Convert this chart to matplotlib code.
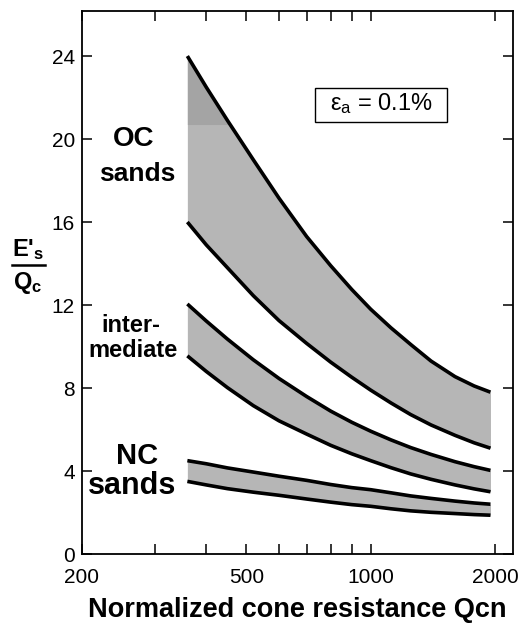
import numpy as np
import matplotlib
matplotlib.use("Agg")
import matplotlib.pyplot as plt
from matplotlib.patches import Rectangle
from matplotlib.ticker import FixedLocator, NullFormatter

plt.rcParams['font.family'] = ['Liberation Sans', 'DejaVu Sans']
plt.rcParams['mathtext.fontset'] = 'custom'
plt.rcParams['mathtext.rm'] = 'Liberation Sans'
plt.rcParams['mathtext.bf'] = 'Liberation Sans:bold'
plt.rcParams['mathtext.it'] = 'Liberation Sans:italic'

# Qcn values where the curves were read
qcn = [360, 400, 450, 520, 600, 700, 800, 900, 1000, 1120, 1250, 1400, 1600, 1780, 1950]

# E's/Qc band limits
oc_upper = [24.0, 22.5, 20.9, 19.0, 17.15, 15.3, 13.9, 12.75, 11.8, 10.9, 10.1, 9.3, 8.55, 8.1, 7.8]
oc_lower = [16.0, 14.9, 13.8, 12.45, 11.25, 10.15, 9.25, 8.52, 7.9, 7.28, 6.72, 6.22, 5.72, 5.36, 5.1]
int_upper = [12.05, 11.23, 10.36, 9.36, 8.46, 7.59, 6.89, 6.35, 5.92, 5.5, 5.13, 4.8, 4.45, 4.21, 4.03]
int_lower = [9.55, 8.8, 8.02, 7.15, 6.42, 5.78, 5.24, 4.83, 4.5, 4.16, 3.86, 3.6, 3.33, 3.14, 3.0]
nc_upper = [4.5, 4.35, 4.15, 3.95, 3.75, 3.55, 3.35, 3.2, 3.1, 2.95, 2.8, 2.68, 2.55, 2.46, 2.4]
nc_lower = [3.5, 3.33, 3.15, 2.98, 2.83, 2.65, 2.5, 2.38, 2.3, 2.18, 2.08, 2.01, 1.95, 1.9, 1.87]

x_major = [200, 500, 1000, 2000]
x_minor = [300, 400, 600, 700, 800, 900]
y_ticks = [0, 4, 8, 12, 16, 20, 24]

fig = plt.figure(figsize=(5.25, 6.26), dpi=100)
ax = fig.add_axes([0.156, 0.115, 0.821, 0.8674])

bands = [(oc_lower, oc_upper), (int_lower, int_upper), (nc_lower, nc_upper)]
for lo, hi in bands:
    ax.fill_between(qcn, lo, hi, color='#b6b6b6', linewidth=0, zorder=1)
    ax.plot(qcn, hi, color='black', lw=2.6, solid_capstyle='butt', zorder=3)
    ax.plot(qcn, lo, color='black', lw=2.6, solid_capstyle='butt', zorder=3)

# darker patch at top of OC band (as in the scan)
hi = np.array(oc_upper)
ax.fill_between(qcn, 20.7, hi, where=hi > 20.7, interpolate=True,
                color='#a4a4a4', linewidth=0, zorder=2)

ax.set_xscale('log')
ax.set_xlim(200, 2210)
ax.set_ylim(0, 26.17)

ax.xaxis.set_major_locator(FixedLocator(x_major))
ax.xaxis.set_minor_locator(FixedLocator(x_minor))
ax.xaxis.set_minor_formatter(NullFormatter())
ax.set_xticklabels([str(v) for v in x_major])
ax.set_yticks(y_ticks)

ax.tick_params(which='both', direction='in', top=True, right=True,
               length=7, width=1.1, labelsize=15, pad=5)
ax.tick_params(axis='x', which='major', pad=10)
for s in ax.spines.values():
    s.set_linewidth(1.3)

ax.set_xlabel('Normalized cone resistance Qcn', fontsize=19.5,
              fontweight='bold', labelpad=7)

# y label as a fraction
fig.text(28 / 525, 1 - 250 / 626, "E'$_\\mathbf{s}$", fontsize=17,
         fontweight='bold', ha='center', va='center')
fig.text(28 / 525, 1 - 283 / 626, "Q$_\\mathbf{c}$", fontsize=17,
         fontweight='bold', ha='center', va='center')
fig.add_artist(plt.Line2D([12 / 525, 45 / 525], [1 - 265 / 626, 1 - 265 / 626],
                          color='black', lw=1.8))

ax.text(267, 20.0, 'OC', fontsize=20, fontweight='bold', ha='center', va='center')
ax.text(272, 18.3, 'sands', fontsize=19, fontweight='bold', ha='center', va='center')
ax.text(263, 11.0, 'inter-', fontsize=17, fontweight='bold', ha='center', va='center')
ax.text(266, 9.8, 'mediate', fontsize=17, fontweight='bold', ha='center', va='center')
ax.text(272, 4.7, 'NC', fontsize=21, fontweight='bold', ha='center', va='center')
ax.text(265, 3.3, 'sands', fontsize=22, fontweight='bold', ha='center', va='center')

# strain label box
ax.add_patch(Rectangle((0.541, 0.796), 0.306, 0.062, transform=ax.transAxes,
                       fc='white', ec='black', lw=1.0, zorder=4))
ax.text(0.694, 0.829, r'ε$_{\mathrm{a}}$ = 0.1%', fontsize=17, ha='center',
        va='center', transform=ax.transAxes, zorder=5)

fig.savefig('out.png', dpi=100)
